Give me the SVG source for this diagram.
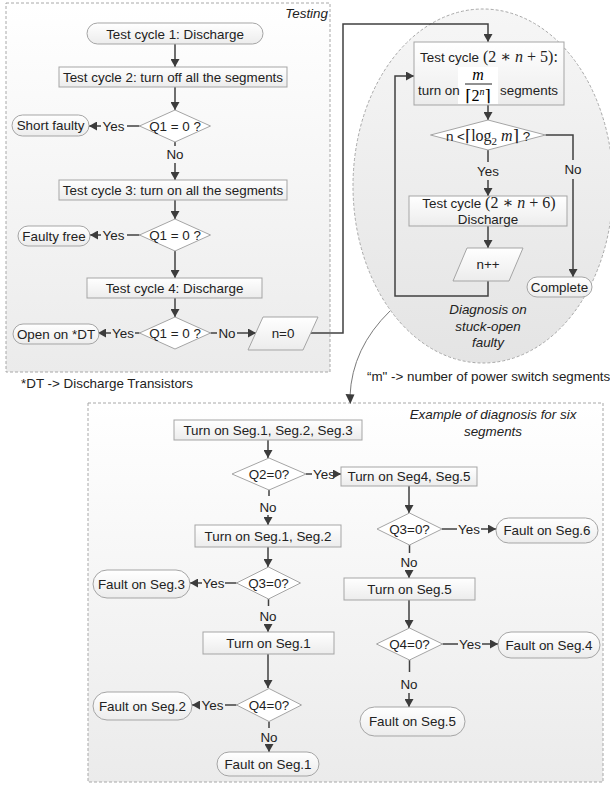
<svg xmlns="http://www.w3.org/2000/svg" width="610" height="785" viewBox="0 0 610 785">
<defs>
<linearGradient id="gPanel" x1="0" y1="0" x2="0" y2="1"><stop offset="0" stop-color="#ffffff"/><stop offset="1" stop-color="#ebebeb"/></linearGradient>
<linearGradient id="gEll" x1="0" y1="0" x2="0" y2="1"><stop offset="0" stop-color="#f6f6f6"/><stop offset="1" stop-color="#e4e4e4"/></linearGradient>
<linearGradient id="gBox" x1="0" y1="0" x2="0" y2="1"><stop offset="0" stop-color="#ffffff"/><stop offset="1" stop-color="#ececec"/></linearGradient>
<marker id="ah" markerWidth="9" markerHeight="9" refX="8" refY="4.5" orient="auto" markerUnits="userSpaceOnUse"><path d="M0,0 L8,4.5 L0,9 Z" fill="#3c3c3c"/></marker>
</defs>
<style>
.panel{fill:url(#gPanel);stroke:#a8a8a8;stroke-width:1;stroke-dasharray:3 2}
.ell{fill:url(#gEll);stroke:#a8a8a8;stroke-width:1;stroke-dasharray:3 2}
.box{fill:url(#gBox);stroke:#a5a5a5;stroke-width:1}
.dia{fill:#ffffff;stroke:#a5a5a5;stroke-width:1}
.t{font-family:"Liberation Sans",Arial,sans-serif;font-size:13.4px;fill:#222;text-anchor:middle}
.ts{font-family:"Liberation Sans",Arial,sans-serif;font-size:13.4px;fill:#222}
.it{font-style:italic}
.m{font-family:"Liberation Serif","DejaVu Serif",serif;font-size:16px}
.c{fill:none;stroke:#404040;stroke-width:1.5}
.a{marker-end:url(#ah)}
</style>

<!-- panels -->
<rect class="panel" x="6" y="3" width="324" height="369"/>
<text class="ts it" x="328" y="18" text-anchor="end">Testing</text>
<ellipse class="ell" cx="483" cy="186" rx="130" ry="177"/>
<rect class="panel" x="88" y="403" width="515" height="379"/>
<text class="t it" x="493" y="419">Example of diagnosis for six</text>
<text class="t it" x="493" y="436">segments</text>
<text class="t it" x="488" y="314">Diagnosis on</text>
<text class="t it" x="488" y="331">stuck-open</text>
<text class="t it" x="488" y="347">faulty</text>
<text class="ts" x="21" y="388">*DT -&gt; Discharge Transistors</text>
<text class="ts" x="367" y="381">“m" -&gt; number of power switch segments</text>

<!-- connectors -->
<g id="connectors">
<path class="c a" d="M175,44 V67"/>
<path class="c a" d="M175,87 V110"/>
<path class="c" d="M139.5,126 H127"/><text class="t" x="113.5" y="130.5">Yes</text><path class="c a" d="M101,126 H89"/>
<path class="c" d="M175,142 V146"/><text class="t" x="175" y="159">No</text><path class="c a" d="M175,163 V180"/>
<path class="c a" d="M175,200 V219"/>
<path class="c" d="M139.5,235 H127"/><text class="t" x="113.5" y="239.5">Yes</text><path class="c a" d="M101,235 H90"/>
<path class="c a" d="M175,251 V278"/>
<path class="c a" d="M175,298 V317"/>
<path class="c" d="M139.5,333 H135"/><text class="t" x="123" y="337.5">Yes</text><path class="c a" d="M111,333 H98"/>
<path class="c" d="M210.5,333 H217"/><text class="t" x="227" y="337.5">No</text><path class="c a" d="M237,333 H256"/>
<path class="c a" d="M310.5,333 H343 V24 H488 V42"/>
<path class="c a" d="M488,105 V120"/>
<path class="c" d="M488,150 V162"/><text class="t" x="488" y="176">Yes</text><path class="c a" d="M488,180 V196"/>
<path class="c" d="M545.5,135 H573 V160"/><text class="t" x="573" y="174">No</text><path class="c a" d="M573,179 V277"/>
<path class="c a" d="M488,226 V248"/>
<path class="c a" d="M488,281 V296 H395 V76 H414"/>
<path d="M390,311 Q352,348 350,396" fill="none" stroke="#7a7a7a" stroke-width="1"/>
<path d="M345.5,394 L350.3,404 L354.5,394.5 Z" fill="#3c3c3c"/>

<path class="c a" d="M268,440 V458"/>
<path class="c" d="M306,474 H312"/><text class="t" x="324" y="478.5">Yes</text><path class="c a" d="M334,474 H341"/>
<path class="c" d="M269,490 V496"/><text class="t" x="268" y="512">No</text><path class="c a" d="M268,515 V525"/>
<path class="c a" d="M268,547 V567"/>
<path class="c" d="M236.5,583 H225"/><text class="t" x="213.5" y="587.5">Yes</text><path class="c a" d="M202,583 H190"/>
<path class="c" d="M268.5,599 V606"/><text class="t" x="268" y="621">No</text><path class="c a" d="M268,624 V632"/>
<path class="c a" d="M268,654 V688"/>
<path class="c" d="M236.5,705 H225"/><text class="t" x="212.5" y="709.5">Yes</text><path class="c a" d="M200,705 H192"/>
<path class="c" d="M269,721.5 V728"/><text class="t" x="269" y="742">No</text><path class="c a" d="M269,745 V752"/>
<path class="c a" d="M409,486 V513"/>
<path class="c" d="M442,529 H457"/><text class="t" x="469" y="533.5">Yes</text><path class="c a" d="M481,529 H496"/>
<path class="c" d="M409.5,545 V553"/><text class="t" x="409" y="567">No</text><path class="c a" d="M409,570 V578"/>
<path class="c a" d="M409,600 V628"/>
<path class="c" d="M442.5,644 H458"/><text class="t" x="470" y="648.5">Yes</text><path class="c a" d="M482,644 H498"/>
<path class="c" d="M409.5,660 V672"/><text class="t" x="409" y="689">No</text><path class="c a" d="M409,693 V707"/>
</g>

<!-- top-left nodes -->
<g id="tc1"><rect class="box" x="87" y="23" width="176" height="21" rx="10.5"/><text class="t" x="175" y="38.5">Test cycle 1: Discharge</text></g>
<g id="tc2"><rect class="box" x="59" y="67" width="228" height="20"/><text class="t" x="173" y="82">Test cycle 2: turn off all the segments</text></g>
<g id="q1a"><polygon class="dia" points="139.5,126 175,110 210.5,126 175,142"/><text class="t" x="175" y="130.5">Q1 = 0 ?</text></g>
<g id="short"><rect class="box" x="12" y="115" width="77" height="21" rx="10.5"/><text class="t" x="50.5" y="130">Short faulty</text></g>
<g id="tc3"><rect class="box" x="59" y="180" width="228" height="20"/><text class="t" x="173" y="195">Test cycle 3: turn on all the segments</text></g>
<g id="q1b"><polygon class="dia" points="139.5,235 175,219 210.5,235 175,251"/><text class="t" x="175" y="239.5">Q1 = 0 ?</text></g>
<g id="free"><rect class="box" x="18" y="226" width="72" height="20" rx="10"/><text class="t" x="54" y="240.5">Faulty free</text></g>
<g id="tc4"><rect class="box" x="87" y="278" width="175" height="20"/><text class="t" x="174.5" y="293">Test cycle 4: Discharge</text></g>
<g id="q1c"><polygon class="dia" points="139.5,333 175,317 210.5,333 175,349"/><text class="t" x="175" y="337.5">Q1 = 0 ?</text></g>
<g id="open"><rect class="box" x="13" y="324" width="86" height="20" rx="10"/><text class="t" x="56" y="338.5">Open on *DT</text></g>
<g id="n0"><polygon class="box" points="263,317 318,317 303,350 248,350"/><text class="t" x="283" y="338">n=0</text></g>

<!-- right ellipse nodes -->
<g id="tc5">
<rect class="box" x="414" y="42" width="150" height="63"/>
<text class="t" x="489" y="62">Test cycle<tspan class="m" font-size="17"> (2 ∗ <tspan class="it">n</tspan> + 5):</tspan></text>
<rect x="458" y="67" width="40" height="37" fill="#ffffff"/>
<text class="ts" x="418" y="95">turn on</text>
<text class="m it" x="478" y="80" text-anchor="middle" font-size="15">m</text>
<line x1="465" y1="84" x2="492" y2="84" stroke="#222" stroke-width="1"/>
<text class="m" x="478" y="101" text-anchor="middle" font-size="14">⌈2<tspan class="it" font-size="10" dy="-6">n</tspan><tspan dy="6">⌉</tspan></text>
<text class="ts" x="500" y="95">segments</text>
</g>
<g id="qlog"><polygon class="dia" points="430.5,135 488,120 545.5,135 488,150"/>
<text class="t" x="488" y="140.5">n &lt;<tspan class="m">⌈log<tspan font-size="11" dy="4">2</tspan><tspan dy="-4"> </tspan><tspan class="it">m</tspan>⌉</tspan> ?</text></g>
<g id="tc6"><rect class="box" x="409" y="196" width="158" height="30"/>
<text class="t" x="489" y="208">Test cycle<tspan class="m"> (2 ∗ <tspan class="it">n</tspan> + 6)</tspan></text>
<text class="t" x="488" y="223.5">Discharge</text></g>
<g id="npp"><polygon class="box" points="467,248 523,248 509,281 453,281"/><text class="t" x="488" y="268.5">n++</text></g>
<g id="complete"><rect class="box" x="527" y="277" width="65" height="20" rx="10"/><text class="t" x="559.5" y="291.5">Complete</text></g>

<!-- bottom nodes -->
<g id="b1"><rect class="box" x="174" y="420" width="188" height="20"/><text class="t" x="268" y="435">Turn on Seg.1, Seg.2, Seg.3</text></g>
<g id="q2"><polygon class="dia" points="232,474 269,458 306,474 269,490"/><text class="t" x="269" y="478.5">Q2=0?</text></g>
<g id="b2"><rect class="box" x="341" y="467" width="136" height="19"/><text class="t" x="409" y="481">Turn on Seg4, Seg.5</text></g>
<g id="b3"><rect class="box" x="195" y="525" width="146" height="22"/><text class="t" x="268" y="540.5">Turn on Seg.1, Seg.2</text></g>
<g id="q3l"><polygon class="dia" points="236.5,583 268.5,567 300.5,583 268.5,599"/><text class="t" x="268.5" y="587.5">Q3=0?</text></g>
<g id="f3"><rect class="box" x="93" y="570" width="97" height="28" rx="14"/><text class="t" x="141.5" y="588.5">Fault on Seg.3</text></g>
<g id="q3r"><polygon class="dia" points="377,529 409.5,513 442,529 409.5,545"/><text class="t" x="409.5" y="533.5">Q3=0?</text></g>
<g id="f6"><rect class="box" x="496" y="518" width="102" height="25" rx="12.5"/><text class="t" x="547" y="535">Fault on Seg.6</text></g>
<g id="b4"><rect class="box" x="344" y="578" width="131" height="22"/><text class="t" x="409.5" y="593.5">Turn on Seg.5</text></g>
<g id="b5"><rect class="box" x="203" y="632" width="131" height="22"/><text class="t" x="268.5" y="647.5">Turn on Seg.1</text></g>
<g id="q4r"><polygon class="dia" points="376.5,644 409.5,628 442.5,644 409.5,660"/><text class="t" x="409.5" y="648.5">Q4=0?</text></g>
<g id="f4"><rect class="box" x="498" y="632" width="102" height="26" rx="13"/><text class="t" x="549" y="649.5">Fault on Seg.4</text></g>
<g id="f5"><rect class="box" x="360" y="707" width="105" height="29" rx="14.5"/><text class="t" x="412.5" y="726">Fault on Seg.5</text></g>
<g id="q4l"><polygon class="dia" points="236.5,705 269,688.5 301.5,705 269,721.5"/><text class="t" x="269" y="709.5">Q4=0?</text></g>
<g id="f2"><rect class="box" x="93" y="692" width="99" height="28" rx="14"/><text class="t" x="142.5" y="710.5">Fault on Seg.2</text></g>
<g id="f1"><rect class="box" x="217" y="752" width="102" height="24" rx="12"/><text class="t" x="268" y="768.5">Fault on Seg.1</text></g>
</svg>
